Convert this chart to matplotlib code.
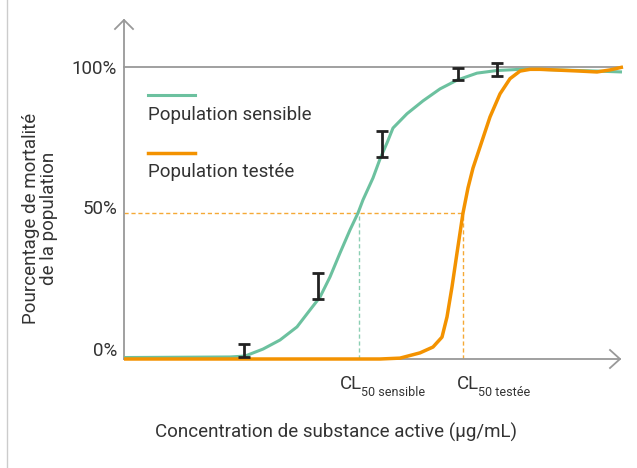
import matplotlib
matplotlib.use("Agg")
import matplotlib.pyplot as plt
from matplotlib.lines import Line2D
from matplotlib.transforms import Affine2D, ScaledTranslation

plt.rcParams['font.family'] = ['Roboto', 'DejaVu Sans']

# ---------------- data ----------------
sens_x = [0, 106, 121, 139, 156, 173, 186, 196, 206, 216, 226, 234, 239, 249, 256,
          263, 269, 283, 299, 316, 333, 353, 373, 396, 416, 473, 498]
sens_y = [0.5, 0.7, 1.0, 3.4, 6.5, 11.0, 16.8, 21.2, 28.1, 36.3, 44.2, 50.0, 54.5, 62.0, 68.5,
          74.0, 79.1, 84.0, 88.4, 92.5, 95.5, 97.9, 98.8, 99.2, 99.2, 98.6, 98.3]

test_x = [0, 256, 276, 296, 309, 318, 323, 328, 333, 339, 344, 349, 356, 366, 376,
          386, 396, 406, 416, 456, 473, 486, 499]
test_y = [0, 0, 0.3, 2.1, 4.1, 7.5, 14.4, 24.7, 36.3, 50.0, 58.6, 65.4, 72.6, 82.9, 90.8,
          96.0, 98.6, 99.2, 99.2, 98.6, 98.3, 99.0, 100]

err_x = [120, 194, 258, 334, 373]
err_y = [2.9, 25.0, 73.6, 97.6, 99.1]
err_e = [2.2, 4.5, 4.5, 2.1, 2.2]

cl50_sens = 235
cl50_test = 339

yticks = [0, 50, 100]
ytick_labels = ["0%", "50%", "100%"]
legend_labels = ["Population sensible", "Population testée"]
cl_subscripts = ["50 sensible", "50 testée"]
xlabel = "Concentration de substance active (µg/mL)"
ylabel = "Pourcentage de mortalité\nde la population"

GREEN = "#6cc19f"
ORANGE = "#f39200"
GRAY = "#999999"
TXT = "#333333"
FS = 13.5

W, H = 637, 468
fig = plt.figure(figsize=(W / 100, H / 100), dpi=100)
px = Affine2D().scale(1 / W, -1 / H).translate(0, 1) + fig.transFigure

ax = fig.add_axes([124 / W, (H - 359) / H, 496 / W, 339 / H])
ax.set_xlim(0, 496)
ax.set_ylim(0, 339 / 2.92)
for s in ["top", "right"]:
    ax.spines[s].set_visible(False)
for s in ["left", "bottom"]:
    ax.spines[s].set_color(GRAY)
    ax.spines[s].set_linewidth(1.3)
ax.set_xticks([])
ax.set_yticks(yticks, ytick_labels)
ax.tick_params(axis="y", length=0, pad=5, labelsize=FS, labelcolor=TXT)
for lab, dy in zip(ax.get_yticklabels(), [7, 4, 0]):
    lab.set_transform(lab.get_transform() + ScaledTranslation(0, dy / 72, fig.dpi_scale_trans))

ax.axhline(100, xmin=0, xmax=498 / 496, color=GRAY, lw=1.3, clip_on=False, zorder=1)

# guides
ax.hlines(50, 0, cl50_test, colors="#f5a936", linestyles=(0, (3, 2)), lw=1, zorder=2)
ax.vlines(cl50_sens, 0, 50, colors="#8ccfb3", linestyles=(0, (3, 2)), lw=1, zorder=2)
ax.vlines(cl50_test, 0, 50, colors="#f5a936", linestyles=(0, (3, 2)), lw=1, zorder=2)

ax.plot(sens_x, sens_y, color=GREEN, lw=2.2, clip_on=False, zorder=3,
        solid_capstyle="butt", solid_joinstyle="round")
ax.plot(test_x, test_y, color=ORANGE, lw=2.5, clip_on=False, zorder=4,
        solid_capstyle="butt", solid_joinstyle="round")
ax.errorbar(err_x, err_y, yerr=err_e, fmt="none", ecolor="#222222", elinewidth=2,
            capsize=4.5, capthick=2, zorder=5)

# arrows
fig.add_artist(Line2D([115, 124, 133], [29, 20, 29], transform=px, color=GRAY, lw=1.3))
fig.add_artist(Line2D([610, 620, 610], [350, 359, 368], transform=px, color=GRAY, lw=1.3))
# left border
fig.add_artist(Line2D([7, 7], [0, H], transform=px, color="#cccccc", lw=1))

# legend
fig.add_artist(Line2D([148, 195], [95, 95], transform=px, color=GREEN, lw=2.2))
fig.add_artist(Line2D([148, 195], [153, 153], transform=px, color=ORANGE, lw=2.5))
fig.text(148, 115, legend_labels[0], transform=px, ha="left", va="center", fontsize=FS, color=TXT)
fig.text(148, 172, legend_labels[1], transform=px, ha="left", va="center", fontsize=FS, color=TXT)

# CL labels
for xpix, sub in zip([340, 457], cl_subscripts):
    t = fig.text(xpix, 384, "CL", transform=px, ha="left", va="center", fontsize=FS, color=TXT)
    ax.annotate(sub, xy=(1, 0), xycoords=t, xytext=(-1.0, -2.0), textcoords="offset points",
                ha="left", va="baseline", fontsize=9, color=TXT, annotation_clip=False)

fig.text(336, 432, xlabel, transform=px, ha="center", va="center", fontsize=FS, color=TXT)
fig.text(40, 218, ylabel, transform=px, ha="center", va="center", rotation=90,
         multialignment="center", fontsize=FS, color=TXT, linespacing=1.0)

fig.savefig("out.png", dpi=100, facecolor="white")
